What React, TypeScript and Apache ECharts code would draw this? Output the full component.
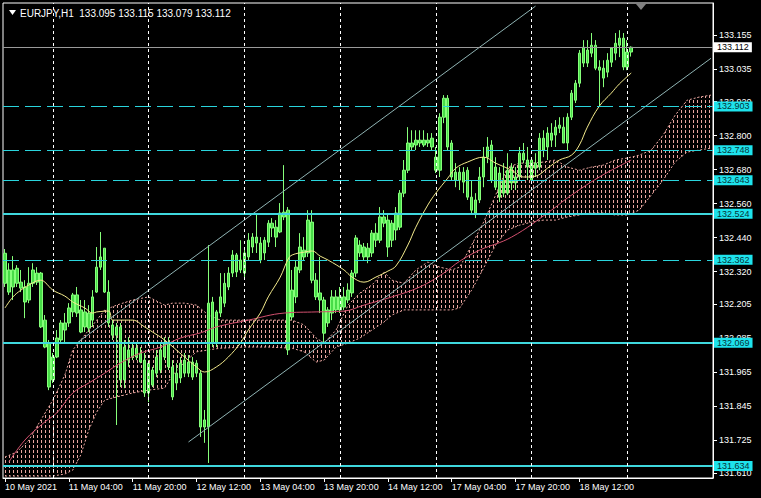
import React, { useEffect, useRef } from 'react';
import * as echarts from 'echarts';

const symbolName = 'EURJPY,H1';
const TOTAL_SLOTS = 178;
const xTickLabels = ['10 May 2021', '11 May 04:00', '11 May 20:00', '12 May 12:00', '13 May 04:00', '13 May 20:00', '14 May 12:00', '17 May 04:00', '17 May 20:00', '18 May 12:00'];
const separatorIdx = [12, 36, 60, 84, 108, 132, 156];
const yTicks = [131.610, 131.725, 131.845, 131.965, 132.085, 132.205, 132.320, 132.440, 132.560, 132.680, 132.800, 132.920, 133.035, 133.155];

const opens = [132.385,132.248,132.326,132.279,132.283,132.266,132.220,132.279,132.283,132.315,132.149,132.068,131.938,132.019,132.079,132.114,132.139,132.178,132.238,132.185,132.125,132.174,132.149,132.248,132.336,132.403,132.248,132.132,132.096,132.125,131.938,132.044,132.019,132.050,132.033,132.008,131.892,131.973,131.962,131.973,132.019,132.068,131.984,131.927,131.945,131.962,132.001,131.948,131.997,131.962,131.772,131.772,132.213,132.068,132.174,132.209,132.266,132.315,132.379,132.326,132.315,132.372,132.407,132.442,132.421,132.386,132.424,132.491,132.477,132.460,132.513,132.537,132.160,132.231,132.326,132.396,132.386,132.495,132.290,132.245,132.220,132.139,132.174,132.231,132.185,132.231,132.220,132.245,132.315,132.414,132.407,132.372,132.386,132.456,132.431,132.513,132.502,132.431,132.467,132.477,132.597,132.678,132.774,132.767,132.784,132.784,132.774,132.791,132.724,132.678,132.865,132.932,132.774,132.643,132.671,132.636,132.678,132.583,132.527,132.573,132.654,132.724,132.767,132.689,132.668,132.597,132.597,132.689,132.633,132.654,132.738,132.714,132.714,132.685,132.689,132.749,132.760,132.809,132.802,132.826,132.830,132.774,132.865,132.925,132.985,133.056,133.102,133.091,133.119,133.042,133.038,133.024,133.059,133.091,133.119,133.144,133.042,133.095];
const highs = [132.400,132.350,132.375,132.343,132.326,132.290,132.336,132.350,132.336,132.319,132.167,132.079,132.033,132.114,132.149,132.174,132.209,132.245,132.266,132.220,132.220,132.202,132.255,132.407,132.460,132.403,132.290,132.149,132.139,132.139,132.079,132.089,132.068,132.068,132.054,132.033,132.008,131.984,132.044,132.068,132.089,132.089,132.008,131.997,132.019,132.033,132.026,132.019,132.008,131.973,131.832,132.414,132.231,132.185,132.315,132.315,132.336,132.396,132.386,132.431,132.407,132.456,132.456,132.527,132.442,132.442,132.502,132.509,132.502,132.562,132.696,132.548,132.326,132.361,132.456,132.442,132.537,132.537,132.315,132.372,132.231,132.195,132.255,132.255,132.266,132.266,132.279,132.326,132.449,132.431,132.421,132.421,132.467,132.491,132.548,132.537,132.527,132.502,132.548,132.608,132.714,132.830,132.819,132.819,132.819,132.819,132.809,132.809,132.760,132.879,132.943,132.943,132.784,132.703,132.689,132.689,132.689,132.643,132.597,132.689,132.760,132.795,132.784,132.724,132.689,132.703,132.738,132.703,132.689,132.760,132.774,132.760,132.724,132.738,132.809,132.819,132.830,132.844,132.855,132.865,132.865,132.879,132.961,132.996,133.102,133.137,133.137,133.162,133.137,133.066,133.066,133.091,133.112,133.162,133.172,133.162,133.137,133.115];
const lows = [132.266,132.238,132.220,132.266,132.248,132.156,132.209,132.266,132.273,132.121,132.050,131.902,131.927,132.015,132.068,132.068,132.125,132.160,132.160,132.103,132.107,132.107,132.125,132.245,132.326,132.245,132.125,132.079,131.779,131.913,131.909,131.984,132.008,132.008,131.997,131.878,131.860,131.913,131.948,131.962,132.008,131.973,131.867,131.902,131.927,131.948,131.948,131.938,131.948,131.737,131.716,131.645,132.054,132.054,132.160,132.195,132.255,132.301,132.301,132.315,132.301,132.361,132.386,132.386,132.350,132.361,132.407,132.442,132.407,132.456,132.502,132.026,132.149,132.209,132.315,132.361,132.372,132.279,132.220,132.174,132.068,132.125,132.149,132.174,132.174,132.185,132.209,132.231,132.301,132.372,132.361,132.350,132.372,132.407,132.421,132.477,132.372,132.407,132.431,132.467,132.583,132.668,132.749,132.749,132.760,132.760,132.760,132.749,132.668,132.654,132.844,132.749,132.643,132.618,132.608,132.597,132.573,132.527,132.509,132.562,132.618,132.703,132.633,132.608,132.566,132.583,132.590,132.608,132.608,132.643,132.703,132.643,132.633,132.654,132.678,132.724,132.714,132.760,132.760,132.809,132.774,132.749,132.855,132.915,132.971,133.042,133.042,133.077,133.031,132.901,132.971,133.006,133.042,133.066,133.077,133.031,133.031,133.079];
const closes = [132.279,132.326,132.266,132.332,132.262,132.213,132.279,132.326,132.315,132.125,132.054,131.913,132.019,132.086,132.139,132.139,132.192,132.238,132.174,132.107,132.178,132.121,132.231,132.336,132.372,132.248,132.139,132.096,132.125,131.938,132.054,132.008,132.050,132.019,132.001,131.892,131.997,131.920,132.019,132.044,132.068,131.984,131.878,131.962,131.997,132.008,131.962,132.001,131.962,131.772,131.797,132.209,132.068,132.178,132.231,132.279,132.315,132.379,132.319,132.361,132.386,132.431,132.442,132.421,132.361,132.431,132.491,132.474,132.442,132.527,132.530,132.044,132.255,132.336,132.407,132.372,132.502,132.290,132.231,132.220,132.103,132.185,132.231,132.185,132.231,132.195,132.255,132.315,132.439,132.386,132.372,132.403,132.456,132.431,132.513,132.491,132.407,132.491,132.527,132.597,132.678,132.774,132.760,132.784,132.774,132.767,132.784,132.760,132.678,132.865,132.932,132.760,132.654,132.671,132.643,132.671,132.583,132.537,132.573,132.654,132.724,132.760,132.643,132.618,132.583,132.643,132.678,132.633,132.654,132.738,132.714,132.689,132.643,132.703,132.791,132.791,132.809,132.784,132.830,132.837,132.774,132.865,132.950,132.985,133.091,133.112,133.056,133.119,133.038,133.031,133.003,133.066,133.109,133.126,133.144,133.042,133.095,133.112];

// moving averages (bar index, price)
const maFastIdx = [0,2,4,6,9,10,12,15,17,20,22,23,26,27,30,32,35,37,40,45,48,50,53,56,59,61,64,66,69,71,72,75,77,79,81,85,87,90,93,96,98,101,103,106,108,111,113,116,120,123,127,130,133,136,139,142,144,146,149,152,154,157];
const maFastVal = [132.192,132.231,132.255,132.273,132.290,132.283,132.255,132.234,132.213,132.192,132.174,132.178,132.181,132.149,132.149,132.149,132.125,132.107,132.079,132.019,131.984,131.966,131.984,132.019,132.068,132.114,132.174,132.231,132.301,132.365,132.379,132.389,132.393,132.375,132.361,132.326,132.301,132.283,132.301,132.322,132.340,132.414,132.477,132.555,132.597,132.650,132.685,132.707,132.724,132.703,132.678,132.654,132.657,132.685,132.714,132.731,132.767,132.830,132.904,132.950,132.982,133.021];
const maSlowIdx = [1,5,10,13,17,21,25,29,34,39,44,49,53,61,70,78,85,90,97,104,110,114,119,127,137,141,149,157];
const maSlowVal = [131.649,131.726,131.790,131.822,131.892,131.927,131.962,131.998,132.033,132.054,132.086,132.104,132.125,132.149,132.174,132.178,132.181,132.202,132.231,132.266,132.315,132.357,132.396,132.442,132.537,132.580,132.654,132.714];

// Ichimoku cloud edges (bar index, upper, lower)
const cloudIdx = [0,3,6,9,12,15,17,19,21,23,25,28,32,36,40,42,45,48,51,54,60,66,72,75,78,80,83,86,89,92,95,97,100,103,106,109,112,114,117,120,123,126,129,132,135,138,141,144,147,150,153,156,159,162,165,168,171,174,177];
const cloudTop = [131.666,131.684,131.726,131.797,131.867,131.955,132.044,132.079,132.114,132.149,132.185,132.202,132.220,132.231,132.202,132.209,132.209,132.202,132.167,132.149,132.149,132.149,132.149,132.132,132.086,132.068,132.114,132.202,132.245,132.273,132.319,132.290,132.279,132.326,132.354,132.336,132.326,132.336,132.414,132.495,132.590,132.689,132.703,132.703,132.707,132.714,132.689,132.678,132.689,132.696,132.714,132.721,132.731,132.749,132.802,132.872,132.925,132.936,132.943];
const cloudBot = [131.599,131.599,131.599,131.599,131.599,131.606,131.620,131.673,131.761,131.825,131.867,131.878,131.892,131.902,131.909,131.955,132.001,132.037,132.044,132.050,132.054,132.054,132.050,132.037,132.001,132.008,132.054,132.068,132.086,132.114,132.142,132.167,132.185,132.185,132.185,132.185,132.185,132.192,132.255,132.333,132.414,132.467,132.484,132.495,132.502,132.502,132.513,132.520,132.527,132.527,132.520,132.520,132.537,132.590,132.643,132.707,132.742,132.749,132.756];

const dashedLevels = [132.903, 132.748, 132.643, 132.362];
const solidLevels = [132.524, 132.069, 131.634];
const bidPrice = 133.112;
const channelUpper = [[18, 132.068], [133, 133.257]];
const channelLower = [[46, 131.719], [177, 133.073]];

const Y_MIN = 131.592;
const Y_MAX = 133.268;
const FONT = 'Liberation Sans, Arial, sans-serif';

export default function App() {
  const ref = useRef<HTMLDivElement>(null);
  useEffect(() => {
    if (!ref.current) return;
    const chart = echarts.init(ref.current, null, { renderer: 'svg' });
    const categories = Array.from({ length: TOTAL_SLOTS }, (_, i) => String(i));
    const candles = opens.map((o, i) => [o, closes[i], lows[i], highs[i]]);
    const last = opens.length - 1;

    const cloudColor = '#eaa6a0';
    const tile = document.createElement('canvas');
    tile.width = 4; tile.height = 5;
    const ctx = tile.getContext('2d');
    if (ctx) { ctx.fillStyle = cloudColor; ctx.fillRect(1, 0, 1, 3); }
    const pattern: any = { image: tile, repeat: 'repeat', imageWidth: 4, imageHeight: 5 };

    const tickShown = (idx: number) => idx % 16 === 0 && idx / 16 < xTickLabels.length;

    const levelLines: any[] = [];
    dashedLevels.forEach((v) => levelLines.push({
      name: v.toFixed(3),
      yAxis: v,
      lineStyle: { color: '#2ad4dc', width: 1, type: [16, 6], opacity: 1 },
      label: { backgroundColor: '#1ee3ec', color: '#06343a' },
    }));
    solidLevels.forEach((v) => levelLines.push({
      name: v.toFixed(3),
      yAxis: v,
      lineStyle: { color: '#3fd8de', width: 2, type: 'solid', opacity: 1 },
      label: { backgroundColor: '#1ee3ec', color: '#06343a' },
    }));
    levelLines.push({
      name: bidPrice.toFixed(3),
      yAxis: bidPrice,
      lineStyle: { color: '#9a9a9a', width: 1, type: 'solid', opacity: 1 },
      label: { backgroundColor: '#ffffff', color: '#000000' },
    });

    const option: any = {
      animation: false,
      backgroundColor: '#000000',
      textStyle: { fontFamily: FONT },
      grid: { left: 3, right: 48, top: 3, bottom: 20, show: true, borderColor: '#ffffff', borderWidth: 1, backgroundColor: '#000000' },
      xAxis: {
        type: 'category',
        data: categories,
        boundaryGap: true,
        axisLine: { show: true, lineStyle: { color: '#ffffff' } },
        axisTick: { show: true, interval: (i: number) => tickShown(i), alignWithLabel: true, length: 4, lineStyle: { color: '#ffffff' } },
        axisLabel: {
          show: true, interval: (i: number) => tickShown(i), align: 'left', color: '#ffffff', fontSize: 9, margin: 4, fontFamily: FONT,
          formatter: (_v: string, i: number) => xTickLabels[i / 16] || '',
        },
        splitLine: { show: false },
      },
      yAxis: {
        type: 'value',
        position: 'right',
        min: Y_MIN,
        max: Y_MAX,
        scale: true,
        axisLine: { show: true, lineStyle: { color: '#ffffff' } },
        axisTick: { show: true, customValues: yTicks, length: 4, lineStyle: { color: '#ffffff' } },
        axisLabel: { show: true, customValues: yTicks, color: '#ffffff', fontSize: 9, margin: 6, fontFamily: FONT, formatter: (v: number) => v.toFixed(3) },
        splitLine: { show: false },
      },
      graphic: [
        { type: 'polygon', shape: { points: [[9, 10], [16, 10], [12.5, 15]] }, style: { fill: '#ffffff' }, z: 100 },
        { type: 'text', x: 20, y: 13, style: { text: `${symbolName}  ${opens[last].toFixed(3)} ${highs[last].toFixed(3)} ${lows[last].toFixed(3)} ${closes[last].toFixed(3)}`, fill: '#ffffff', font: `10px ${FONT}`, verticalAlign: 'middle' }, z: 100 },
        { type: 'polygon', shape: { points: [[636, 4], [646, 4], [641, 10]] }, style: { fill: '#808080' }, z: 100 },
      ],
      series: [
        {
          type: 'custom',
          z: 1,
          silent: true,
          data: cloudIdx.map((x, k) => [x, cloudTop[k], cloudBot[k]]),
          encode: { x: 0, y: [1, 2] },
          renderItem: (params: any, api: any) => {
            if (params.dataIndex !== 0) return null;
            const top = cloudIdx.map((x, k) => api.coord([x, cloudTop[k]]));
            const bot = cloudIdx.map((x, k) => api.coord([x, cloudBot[k]]));
            return {
              type: 'group',
              children: [
                { type: 'polygon', shape: { points: top.concat(bot.slice().reverse()) }, style: { fill: pattern, stroke: null } },
                { type: 'polyline', shape: { points: top }, style: { stroke: cloudColor, lineWidth: 1, lineDash: [2, 2], fill: null } },
                { type: 'polyline', shape: { points: bot }, style: { stroke: cloudColor, lineWidth: 1, lineDash: [2, 2], fill: null } },
              ],
            };
          },
        },
        {
          type: 'candlestick',
          z: 2,
          data: candles,
          barWidth: 3,
          itemStyle: { color: '#48dc48', color0: '#48dc48', borderColor: '#86ff7a', borderColor0: '#86ff7a', borderWidth: 1 },
        },
        {
          type: 'line', z: 3, silent: true, showSymbol: false, smooth: 0.4,
          data: maSlowIdx.map((x, k) => [x, maSlowVal[k]]),
          lineStyle: { color: '#d2506e', width: 1 },
        },
        {
          type: 'line', z: 3, silent: true, showSymbol: false, smooth: 0.4,
          data: maFastIdx.map((x, k) => [x, maFastVal[k]]),
          lineStyle: { color: '#f3ea8c', width: 1 },
        },
        {
          type: 'line', z: 4, silent: true, showSymbol: false,
          data: [channelUpper[0], channelUpper[1]],
          lineStyle: { color: '#8fb3b3', width: 1 },
        },
        {
          type: 'line', z: 4, silent: true, showSymbol: false,
          data: [channelLower[0], channelLower[1]],
          lineStyle: { color: '#8fb3b3', width: 1 },
        },
        {
          type: 'line', z: 5, silent: true, data: [],
          markLine: {
            silent: true, symbol: ['none', 'none'], animation: false, precision: 3,
            label: { show: true, position: 'end', distance: 1, fontSize: 9, fontFamily: FONT, padding: [1, 3, 0, 3], formatter: '{b}' },
            data: levelLines,
          },
        },
        {
          type: 'line', z: 4, silent: true, data: [],
          markLine: {
            silent: true, symbol: ['none', 'none'], animation: false,
            label: { show: false },
            lineStyle: { color: '#ffffff', width: 1, type: [3, 3] },
            data: separatorIdx.map((i) => ({ xAxis: String(i) })),
          },
        },
      ],
    };
    chart.setOption(option);
    return () => chart.dispose();
  }, []);
  return <div ref={ref} style={{ position: 'fixed', left: 0, top: 0, width: 761, height: 498 }} />;
}
